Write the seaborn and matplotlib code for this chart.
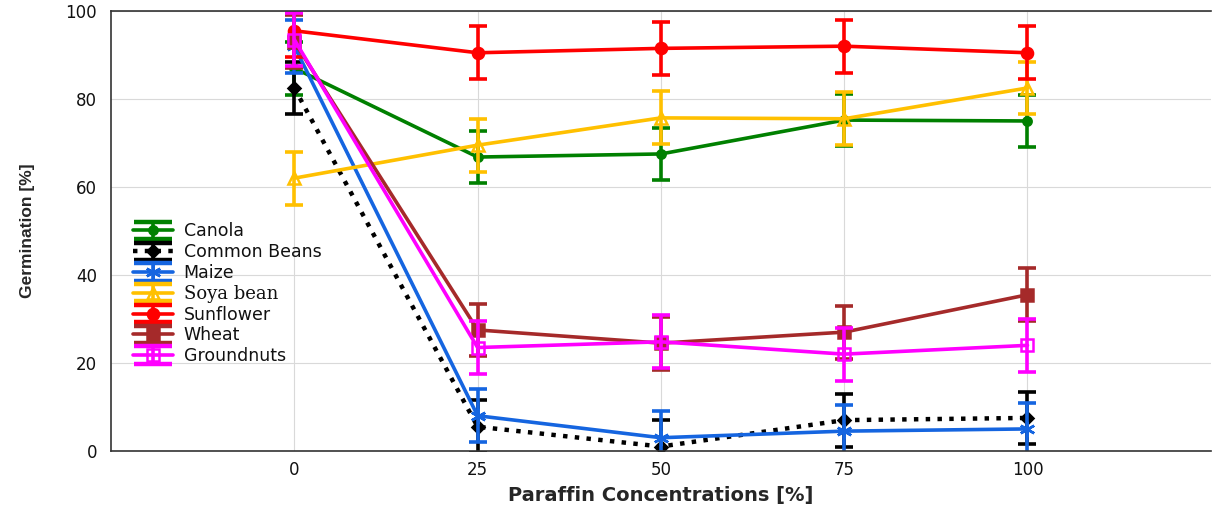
import numpy as np
import pandas as pd
import seaborn as sns
import matplotlib
matplotlib.use("Agg")
import matplotlib.pyplot as plt
from matplotlib.container import ErrorbarContainer
from matplotlib.lines import Line2D

conc = [0, 25, 50, 75, 100]
canola = [87.0, 66.8, 67.5, 75.2, 75.0]
common_beans = [82.5, 5.5, 1.0, 7.0, 7.5]
maize = [92.0, 8.0, 3.0, 4.5, 5.0]
soya_bean = [62.0, 69.5, 75.7, 75.5, 82.5]
sunflower = [95.5, 90.5, 91.5, 92.0, 90.5]
wheat = [93.0, 27.5, 24.5, 27.0, 35.5]
groundnuts = [93.5, 23.5, 24.8, 22.0, 24.0]
err = [6, 6, 6, 6, 6]

series_names = ["Canola", "Common Beans", "Maize", "Soya bean", "Sunflower", "Wheat", "Groundnuts"]
series_vals = [canola, common_beans, maize, soya_bean, sunflower, wheat, groundnuts]
colors = ["#008000", "#000000", "#1565e0", "#ffc000", "#ff0000", "#a52a2a", "#ff00ff"]
markers = ["o", "D", (6, 2, 0), "^", "o", "s", "s"]
mfc = ["#008000", "#000000", "#1565e0", "none", "#ff0000", "#a52a2a", "none"]
msizes = [6, 6, 11, 9, 8, 8, 8]
lstyles = ["-", ":", "-", "-", "-", "-", "-"]

sns.set_style("whitegrid", {"grid.color": "#d9d9d9", "axes.edgecolor": "#333333"})
plt.rcParams['font.family'] = ['DejaVu Sans']

fig = plt.figure(figsize=(12.12, 5.13), dpi=100)
ax = fig.add_axes([0.0916, 0.121, 0.9074, 0.8576])

handles = []
for name, vals, c, m, fc, ms, ls in zip(series_names, series_vals, colors, markers, mfc, msizes, lstyles):
    df = pd.DataFrame({"x": conc, "y": vals})
    sns.lineplot(data=df, x="x", y="y", ax=ax, color=c, marker=m, markersize=ms,
                 markerfacecolor=fc, markeredgecolor=c, markeredgewidth=1.8,
                 linestyle=ls, linewidth=2.6 if ls == "-" else 3.2, legend=False)
    line = ax.lines[-1]
    eb = ax.errorbar(conc, vals, yerr=err, fmt="none", ecolor=c, elinewidth=2.6,
                     capsize=6.5, capthick=2.6)
    cap_proxy = Line2D([], [], color=c, marker="_", markersize=28, markeredgewidth=3.2, linestyle="none")
    handles.append(ErrorbarContainer((line, (cap_proxy, cap_proxy), eb.lines[2]), has_yerr=True, label=name))

ax.set_xlim(-25, 125)
ax.set_ylim(0, 100)
ax.set_xticks(conc)
ax.set_yticks([0, 20, 40, 60, 80, 100])
ax.tick_params(axis="both", labelsize=12, colors="#111111", length=0)
ax.tick_params(axis="x", pad=7)
ax.tick_params(axis="y", pad=10)
ax.set_xlabel("Paraffin Concentrations [%]", fontsize=14, fontweight="bold", labelpad=5)
ax.set_ylabel("Germination [%]", fontsize=12.5, fontweight="bold", labelpad=22,
              family=["Liberation Sans", "DejaVu Sans"])
ax.spines["right"].set_visible(False)
for s in ["left", "bottom", "top"]:
    ax.spines[s].set_color("#333333")
    ax.spines[s].set_linewidth(1.2)

leg = ax.legend(handles=handles, labels=series_names, loc="upper left",
                bbox_to_anchor=(0.014, 0.535), frameon=False, fontsize=12.5,
                labelspacing=0.16, handlelength=2.3, handletextpad=0.6, borderaxespad=0)
for t in leg.get_texts():
    t.set_color("#111111")
    if t.get_text() == "Soya bean":
        t.set_family(["DejaVu Serif"])
        t.set_fontsize(13)

fig.savefig("out.png", dpi=100)
